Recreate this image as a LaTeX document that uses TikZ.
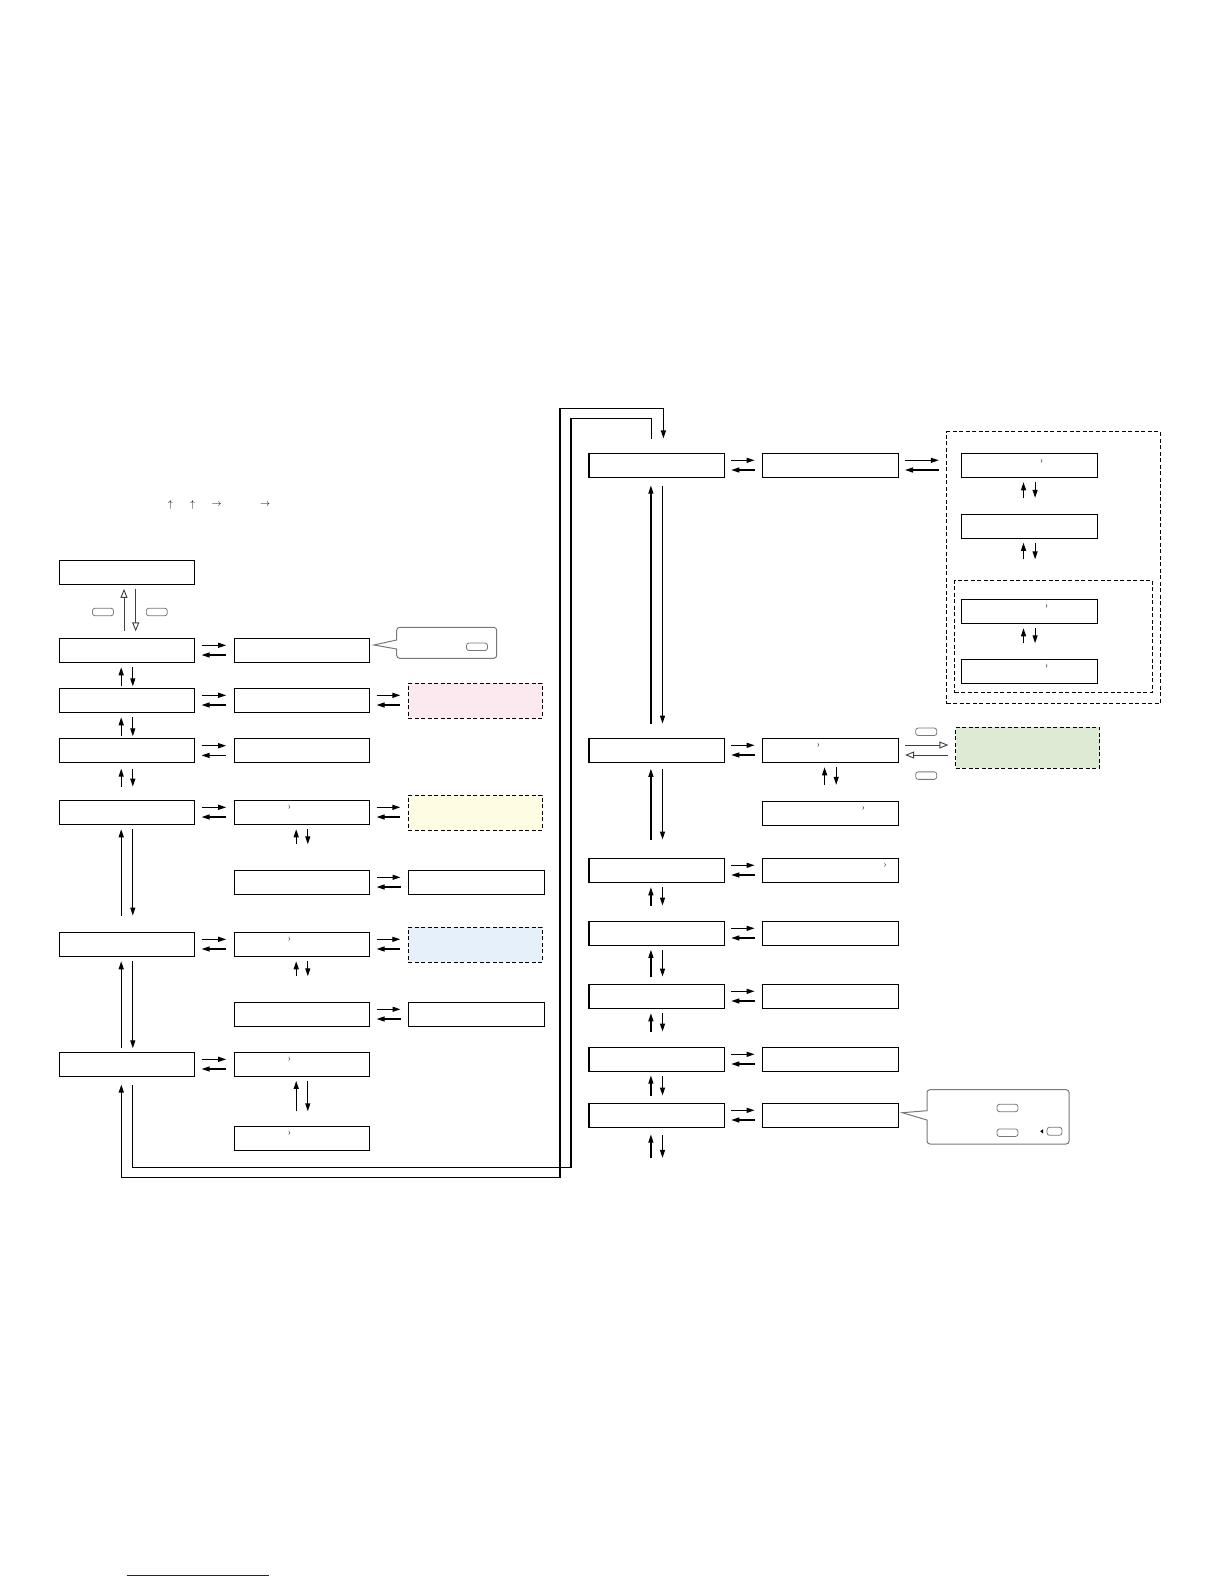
\documentclass[tikz,border=0pt]{standalone}
\usetikzlibrary{arrows.meta,calc}
\definecolor{pinkbg}{RGB}{252,233,240}
\definecolor{yellowbg}{RGB}{254,253,228}
\definecolor{bluebg}{RGB}{229,240,250}
\definecolor{greenbg}{RGB}{221,235,213}
\definecolor{keygray}{RGB}{120,120,120}
\definecolor{linkblue}{RGB}{25,25,140}

\begin{document}
\begin{tikzpicture}[x=1pt,y=-1pt,
  box/.style={draw,line width=1.1pt,minimum width=135.5pt,minimum height=24pt,inner sep=0pt},
  dbox/.style={draw,line width=0.9pt,dash pattern=on 4pt off 2.5pt,
               minimum width=134pt,minimum height=35pt,inner sep=0pt},
  grpbox/.style={draw,line width=0.9pt,dash pattern=on 4pt off 2.5pt,inner sep=0pt},
  key/.style={draw=keygray,line width=0.8pt,rounded corners=2.5pt,
              minimum width=21pt,minimum height=7.5pt,inner sep=0pt},
  chev/.style={font=\fontsize{9}{9}\selectfont,inner sep=0pt},
  glyph/.style={font=\fontsize{10}{10}\selectfont,inner sep=0pt},
  fwd/.style={line width=1.2pt,-{Triangle[length=8pt,width=5pt]}},
  hollow/.style={line width=0.9pt,draw=black!75,-{Triangle[open,length=9pt,width=7pt,fill=white]}},
  call/.style={draw=keygray,line width=1pt}
]
  \useasboundingbox (0,0) rectangle (1224,1584);

  % tiny arrows of the heading line
  \node[glyph] (up1) at (170.3,505) {$\uparrow$};
  \node[glyph] (up2) at (192.7,505) {$\uparrow$};
  \node[glyph] (rt1) at (216.7,505) {$\rightarrow$};
  \node[glyph] (rt2) at (265,505) {$\rightarrow$};

  % left column
  \node[box] (a1) at (127,572.3) {};
  \node[box] (b1) at (127,650.3) {};
  \node[box] (b2) at (302,650.3) {};
  \node[box] (c1) at (127,700.3) {};
  \node[box] (c2) at (302,700.3) {};
  \node[dbox,fill=pinkbg] (c3) at (475.3,700.8) {};
  \node[box] (d1) at (127,750.7) {};
  \node[box] (d2) at (302,750.7) {};
  \node[box] (e1) at (127,812.3) {};
  \node[box] (e2) at (302,812.3) {};
  \node[dbox,fill=yellowbg] (e3) at (475.3,812.7) {};
  \node[box] (f2) at (302,882.3) {};
  \node[box] (f3) at (476.3,882.3) {};
  \node[box] (g1) at (127,944.3) {};
  \node[box] (g2) at (302,944.3) {};
  \node[dbox,fill=bluebg] (g3) at (475.3,944.8) {};
  \node[box] (h2) at (302,1014.3) {};
  \node[box] (h3) at (476.3,1014.3) {};
  \node[box] (j1) at (127,1064.3) {};
  \node[box] (j2) at (302,1064.3) {};
  \node[box] (k2) at (302,1138.3) {};

  % right column
  \node[box] (l1) at (656.7,465.3) {};
  \node[box] (l2) at (830.4,465.3) {};
  \node[grpbox,minimum width=213.5pt,minimum height=272pt] (grp) at (1053.5,567.8) {};
  \node[grpbox,minimum width=197.6pt,minimum height=112.4pt] (sub) at (1053.5,636.5) {};
  \node[box] (m1) at (1029.3,465.3) {};
  \node[box] (m2) at (1029.3,526.8) {};
  \node[box] (m3) at (1029.3,611.3) {};
  \node[box] (m4) at (1029.3,671.3) {};
  \node[box] (n1) at (656.7,750.3) {};
  \node[box] (n2) at (830.4,750.3) {};
  \node[dbox,fill=greenbg,minimum width=144pt,minimum height=41pt] (n3) at (1027.5,747.8) {};
  \node[box] (o2) at (830.4,813.3) {};
  \node[box] (p1) at (656.7,870.3) {};
  \node[box] (p2) at (830.4,870.3) {};
  \node[box] (q1) at (656.7,933.3) {};
  \node[box] (q2) at (830.4,933.3) {};
  \node[box] (r1) at (656.7,996.3) {};
  \node[box] (r2) at (830.4,996.3) {};
  \node[box] (s1) at (656.7,1059.3) {};
  \node[box] (s2) at (830.4,1059.3) {};
  \node[box] (t1) at (656.7,1115.3) {};
  \node[box] (t2) at (830.4,1115.3) {};

  % chevrons inside boxes
  \node[chev] (e2c) at ($(e2)+(-12.7,-4.6)$) {›};
  \node[chev] (g2c) at ($(g2)+(-12.7,-4.6)$) {›};
  \node[chev] (j2c) at ($(j2)+(-12.7,-4.6)$) {›};
  \node[chev] (k2c) at ($(k2)+(-12.7,-4.6)$) {›};
  \node[chev] (m1c) at ($(m1)+(12.3,-4.3)$) {›};
  \node[chev] (m3c) at ($(m3)+(17.4,-4.6)$) {›};
  \node[chev] (m4c) at ($(m4)+(17.4,-4.6)$) {›};
  \node[chev] (n2c) at ($(n2)+(-12,-4.6)$) {›};
  \node[chev] (o2c) at ($(o2)+(32.9,-5)$) {›};
  \node[chev] (p2c) at ($(p2)+(54.8,-4.6)$) {›};

  % left/right pairs
  \foreach \a/\b in {b1/b2,c1/c2,c2/c3,d1/d2,e1/e2,e2/e3,f2/f3,g1/g2,g2/g3,h2/h3,j1/j2,
                     l1/l2,l2/grp,n1/n2,p1/p2,q1/q2,r1/r2,s1/s2,t1/t2} {
    \draw[fwd] ($(\a.east)+(6.3,-5)$) -- ($(\a.east -| \b.west)+(-7.5,-5)$);
    \draw[fwd] ($(\a.east -| \b.west)+(-7.5,4.7)$) -- ($(\a.east)+(6.3,4.7)$);
  }

  % up/down pairs (node, gap, length)
  \foreach \n/\s/\len in {b1/4.4/19,c1/4.4/19,d1/5.4/18,e1/4.4/86.3,g1/4.4/87,
                          e2/4.4/15,g2/4.4/15,j2/4/30.4,
                          l1/7.7/238,n1/6/70.7,p1/4.4/18.3,q1/4/26.7,r1/4.4/18.3,
                          s1/3.7/20,t1/6.7/23.3,
                          m1/4.4/15.6,m2/3.4/16.6,m3/4.4/15,n2/4.4/17.6} {
    \draw[fwd] ($(\n.south)+(-5.8,\s+\len)$) -- ($(\n.south)+(-5.8,\s)$);
    \draw[fwd] ($(\n.south)+(5.8,\s)$) -- ($(\n.south)+(5.8,\s+\len)$);
  }

  % open arrows with keys
  \draw[hollow] ($(b1.north)+(-3,-6.6)$) -- ($(a1.south)+(-3,4)$);
  \draw[hollow] ($(a1.south)+(8.7,3.7)$) -- ($(b1.north)+(8.7,-6.3)$);
  \node[key] (ka) at (103,612) {};
  \node[key] (kb) at (156.8,612) {};

  \draw[hollow] ($(n2.east)+(6.4,-5.3)$) -- ($(n2.east -| n3.west)+(-6.7,-5.3)$);
  \draw[hollow] ($(n2.east -| n3.west)+(-6.7,4.7)$) -- ($(n2.east)+(6.4,4.7)$);
  \node[key] (kn1) at (926.2,731.8) {};
  \node[key] (kn2) at (926.2,775.6) {};

  % loop between the two halves
  \coordinate (jin) at ($(j1.south)+(-5.7,7.7)$);
  \coordinate (jout) at ($(j1.south)+(5.3,7.7)$);
  \coordinate (lin) at ($(l1.north)+(6.7,-14.3)$);
  \coordinate (lout) at ($(l1.north)+(-5.2,-13.3)$);
  \draw[line width=1.2pt,{Triangle[length=8pt,width=5pt]}-{Triangle[length=8pt,width=5pt]}]
    (jin) |- (560,1177.7) -- (560,408.3) -| (lin);
  \draw[line width=1.2pt] (jout) |- (570.9,1167.7) -- (570.9,418.3) -| (lout);

  % callouts
  \draw[call] ($(b2.east)+(3.6,-5.3)$) -- (396.7,640)
    {[rounded corners=3pt] -- (396.7,627.3) -- (496.7,627.3) -- (496.7,658.3) -- (396.7,658.3)}
    -- (396.7,649) -- cycle;
  \node[key] (kc) at (477,646.8) {};

  \draw[call] ($(t2.east)+(3.6,-2.6)$) -- (927,1110.7)
    {[rounded corners=3pt] -- (927,1089.7) -- (1069.1,1089.7) -- (1069.1,1144) -- (927,1144)}
    -- (927,1120) -- cycle;
  \node[key] (kt1) at (1007.5,1108) {};
  \node[key] (kt2) at (1007.5,1132.7) {};
  \node[key,minimum width=15pt,minimum height=8pt] (kt3) at (1054.5,1131.3) {};
  \fill (1040.2,1131.3) -- (1043.2,1129) -- (1043.2,1133.6) -- cycle;

  \draw[linkblue,line width=1pt] (126.7,1575) -- (269,1575);
\end{tikzpicture}
\end{document}
